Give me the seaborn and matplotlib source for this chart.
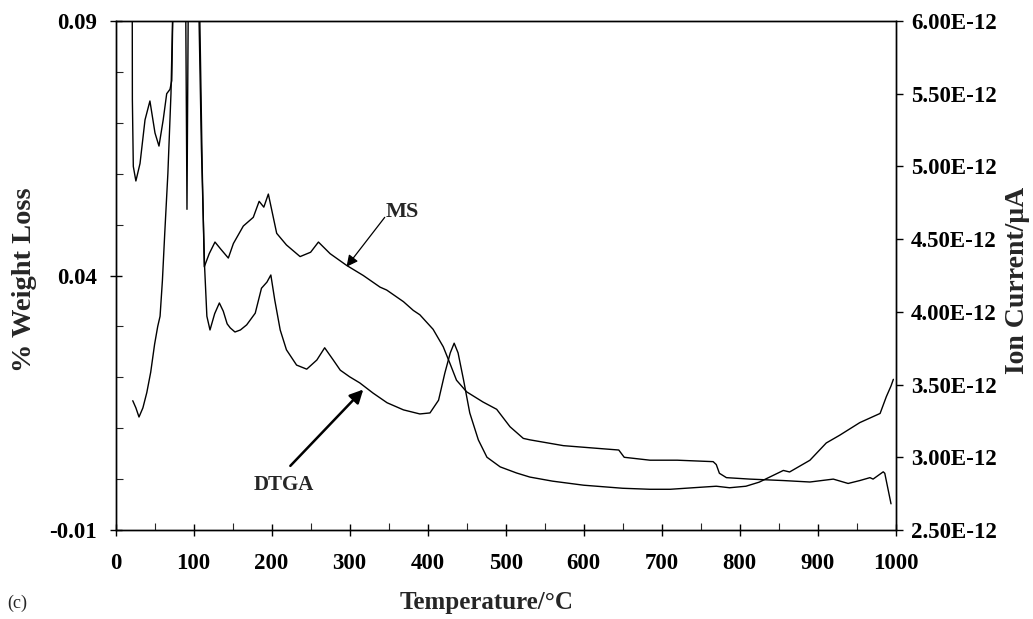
import numpy as np
import pandas as pd
import matplotlib
matplotlib.use("Agg")
import matplotlib.pyplot as plt
import seaborn as sns

# ---- data ----
dtga_temp = [22, 26, 30, 35, 40, 45, 50, 54, 57, 60, 63, 67, 71, 73, 76, 88, 90, 91.5, 93, 95,
             104, 107, 110, 114, 117, 121, 127, 133, 138, 143, 147, 153, 160, 168, 179, 187, 194,
             199, 204, 211, 219, 232, 245, 258, 268, 279, 288, 300, 313, 330, 348, 369, 390, 403,
             414, 422, 429, 434, 439, 446, 454, 465, 476, 493, 514, 531, 560, 600, 650, 685, 711,
             750, 770, 787, 808, 825, 856, 864, 890, 911, 928, 954, 967, 980, 988, 994, 997]
dtga_loss = [0.0154, 0.0140, 0.0122, 0.0140, 0.0170, 0.0210, 0.0265, 0.0300, 0.0320, 0.0390,
             0.0483, 0.0600, 0.0758, 0.0900, 0.1050, 0.1050, 0.0900, 0.0530, 0.0900, 0.1050,
             0.1050, 0.0900, 0.0650, 0.0420, 0.0320, 0.0293, 0.0325, 0.0346, 0.0330, 0.0305,
             0.0297, 0.0289, 0.0293, 0.0303, 0.0326, 0.0375, 0.0387, 0.0401, 0.0352, 0.0293,
             0.0254, 0.0224, 0.0216, 0.0234, 0.0258, 0.0234, 0.0214, 0.0201, 0.0189, 0.0169,
             0.0150, 0.0136, 0.0128, 0.0130, 0.0155, 0.0208, 0.0248, 0.0267, 0.0248, 0.0195,
             0.0130, 0.0077, 0.0043, 0.0024, 0.0012, 0.0004, -0.0004, -0.0012, -0.0018, -0.0020,
             -0.0020, -0.0016, -0.0014, -0.0017, -0.0014, -0.0006, 0.0017, 0.0014, 0.0037,
             0.0071, 0.0086, 0.0111, 0.0120, 0.0129, 0.0162, 0.0183, 0.0196]

ms_temp = [21, 21.5, 22.7, 26, 31.3, 37.7, 44, 50.5, 55.6, 61, 65.5, 69.7, 72, 73.2, 76, 80, 84,
           100, 106, 108, 111, 113.7, 120, 127.4, 135, 144.5, 151, 163.7, 176.5, 184, 190, 195.8,
           206.5, 219, 236.5, 250, 260, 275, 296, 317.5, 339, 347.5, 369, 381.6, 390, 407, 420,
           429, 437, 450, 471, 488.5, 505.6, 522.6, 531, 574, 621, 645, 652, 685, 720, 766, 770,
           774, 783, 813, 856, 890, 920, 939, 954, 967, 971, 984, 986, 994]
ms_current = [7.5, 5.46, 5.0, 4.90, 5.02, 5.32, 5.45, 5.23, 5.14, 5.32, 5.50, 5.53, 5.59, 6.0,
              6.4, 6.02, 6.5, 7.0, 6.8, 6.0, 5.0, 4.31, 4.40, 4.48, 4.43, 4.37, 4.47, 4.59, 4.65,
              4.76, 4.72, 4.81, 4.54, 4.46, 4.38, 4.41, 4.48, 4.40, 4.32, 4.25, 4.17, 4.15, 4.07,
              4.01, 3.98, 3.88, 3.76, 3.64, 3.53, 3.45, 3.38, 3.33, 3.21, 3.13, 3.12, 3.08, 3.06,
              3.05, 3.00, 2.98, 2.98, 2.97, 2.95, 2.89, 2.86, 2.85, 2.84, 2.83, 2.85, 2.82, 2.84,
              2.86, 2.85, 2.90, 2.89, 2.68]  # in units of 1e-12 uA

x_ticks = list(range(0, 1001, 100))
left_ticks = [-0.01, 0.04, 0.09]
left_labels = ["-0.01", "0.04", "0.09"]
right_ticks = [2.5, 3.0, 3.5, 4.0, 4.5, 5.0, 5.5, 6.0]
right_labels = ["2.50E-12", "3.00E-12", "3.50E-12", "4.00E-12", "4.50E-12",
                "5.00E-12", "5.50E-12", "6.00E-12"]

sns.set_theme(style="white")
plt.rcParams["font.family"] = ["Liberation Serif", "DejaVu Serif"]
plt.rcParams["font.weight"] = "bold"

W, H = 1033, 619
fig = plt.figure(figsize=(W / 100, H / 100), dpi=100)
ax_left, ax_right, ax_top, ax_bot = 115.6, 895.7, 21, 530
ax = fig.add_axes([ax_left / W, 1 - ax_bot / H, (ax_right - ax_left) / W, (ax_bot - ax_top) / H])
ax2 = ax.twinx()

dtga = pd.DataFrame({"T": dtga_temp, "v": dtga_loss})
ms = pd.DataFrame({"T": ms_temp, "v": ms_current})
sns.lineplot(data=dtga, x="T", y="v", ax=ax, color="black", lw=1.0, sort=False, estimator=None)
sns.lineplot(data=ms, x="T", y="v", ax=ax2, color="black", lw=1.0, sort=False, estimator=None)

ax.set_xlim(0, 1000)
ax.set_ylim(-0.01, 0.09)
ax2.set_ylim(2.5, 6.0)
ax.set_xlabel("")
ax.set_ylabel("")
ax2.set_ylabel("")

for a in (ax, ax2):
    for s in a.spines.values():
        s.set_color("black")
        s.set_linewidth(1.0)

ax.set_xticks(x_ticks)
ax.set_xticklabels([str(t) for t in x_ticks])
ax.set_xticks(np.arange(50, 1000, 100), minor=True)
ax.set_yticks(left_ticks)
ax.set_yticklabels(left_labels)
ax.set_yticks(np.arange(-0.01, 0.0901, 0.01), minor=True)
ax2.set_yticks(right_ticks)
ax2.set_yticklabels(right_labels)

ax.tick_params(axis="x", which="major", direction="inout", length=9, width=1, colors="black",
               labelsize=16.5, pad=12, bottom=True, top=False)
ax.tick_params(axis="x", which="minor", direction="in", length=5, width=0.8, bottom=True, top=False)
ax.tick_params(axis="y", which="major", direction="inout", length=9, width=1, colors="black",
               labelsize=16.5, pad=9, left=True, right=False)
ax.tick_params(axis="y", which="minor", direction="in", length=5, width=0.8, left=True, right=False)
ax2.tick_params(axis="y", which="major", direction="out", length=5, width=1, colors="black",
                labelsize=16.5, pad=6, right=True, left=False)
for lab in ax.get_xticklabels() + ax.get_yticklabels() + ax2.get_yticklabels():
    lab.set_fontweight("bold")

# annotations
ax2.text(367, 4.69, "MS", ha="center", va="center", fontsize=16, fontweight="bold")
ax2.annotate("", xy=(296, 4.31), xytext=(345, 4.65),
             arrowprops=dict(arrowstyle="-|>", color="black", lw=0.9, mutation_scale=17,
                             shrinkA=0, shrinkB=0))
ax.text(215, -0.0012, "DTGA", ha="center", va="center", fontsize=15, fontweight="bold")
ax.annotate("", xy=(317.5, 0.0176), xytext=(224, 0.0026),
            arrowprops=dict(arrowstyle="-|>", color="black", lw=1.8, mutation_scale=20,
                            shrinkA=0, shrinkB=0))

fig.text(25 / W, 1 - 280 / H, "% Weight Loss", rotation=90, ha="center", va="center",
         fontsize=20.5, fontweight="bold")
fig.text(1017 / W, 1 - 280 / H, "Ion Current/\u03bcA", rotation=90, ha="center", va="center",
         fontsize=20, fontweight="bold")
fig.text(487 / W, 1 - 603 / H, "Temperature/\u00b0C", ha="center", va="center",
         fontsize=18, fontweight="bold")
fig.text(17 / W, 1 - 603 / H, "(c)", ha="center", va="center", fontsize=13,
         fontweight="normal")

fig.savefig("out.png", dpi=100, facecolor="white")
